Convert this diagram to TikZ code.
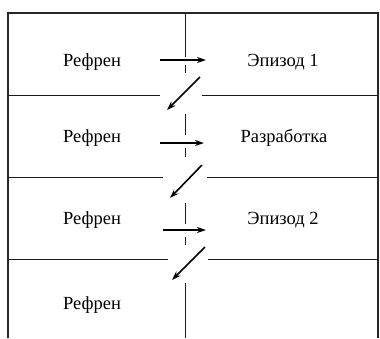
\documentclass[tikz,border=0pt]{standalone}
\usepackage{fontspec}
\setmainfont{Liberation Serif}
\usetikzlibrary{arrows.meta}
\begin{document}
\begin{tikzpicture}[x=1pt,y=-1pt,
  frame/.style={line width=1.2pt,draw=black!85},
  grid/.style={line width=1pt,draw=black!90},
  flow/.style={line width=1.6pt,-{Stealth[length=9pt,width=6pt]}},
  lbl/.style={font=\fontsize{18.5}{20}\selectfont,inner sep=0pt}]
\useasboundingbox (0,0) rectangle (380,338);
% frame
\draw[frame] (8,338) -- (8,13) -- (378,13) -- (378,338);
% horizontal row separators (with gaps)
\draw[grid] (8,95) -- (160,95) (202,95) -- (378,95);
\draw[grid] (8,177) -- (163,177) (207,177) -- (378,177);
\draw[grid] (8,259) -- (168,259) (208,259) -- (378,259);
% central vertical line segments
\draw[grid] (185,13) -- (185,57);
\draw[grid] (185,65) -- (185,73);
\draw[grid] (185,114) -- (185,135);
\draw[grid] (185,148) -- (185,157);
\draw[grid] (185,203) -- (185,224);
\draw[grid] (185,237) -- (185,245);
\draw[grid] (185,283) -- (185,338);
% texts
\node[lbl] (r1) at (92,62) {Рефрен};
\node[lbl] (e1) at (283,62) {Эпизод 1};
\node[lbl] (r2) at (92,138) {Рефрен};
\node[lbl] (d2) at (284,138) {Разработка};
\node[lbl] (r3) at (92,220) {Рефрен};
\node[lbl] (e3) at (283,220) {Эпизод 2};
\node[lbl] (r4) at (92,305) {Рефрен};
% arrow endpoints
\coordinate (h1a) at (160,60); \coordinate (h1b) at (206,60);
\coordinate (h2a) at (160,143); \coordinate (h2b) at (204,143);
\coordinate (h3a) at (163,230); \coordinate (h3b) at (206,230);
\coordinate (d1a) at (200,77); \coordinate (d1b) at (167,110);
\coordinate (d2a) at (202,165); \coordinate (d2b) at (170,198);
\coordinate (d3a) at (205,247); \coordinate (d3b) at (172,280);
\draw[flow] (h1a) -- (h1b);
\draw[flow] (h2a) -- (h2b);
\draw[flow] (h3a) -- (h3b);
\draw[flow] (d1a) -- (d1b);
\draw[flow] (d2a) -- (d2b);
\draw[flow] (d3a) -- (d3b);
\end{tikzpicture}
\end{document}
